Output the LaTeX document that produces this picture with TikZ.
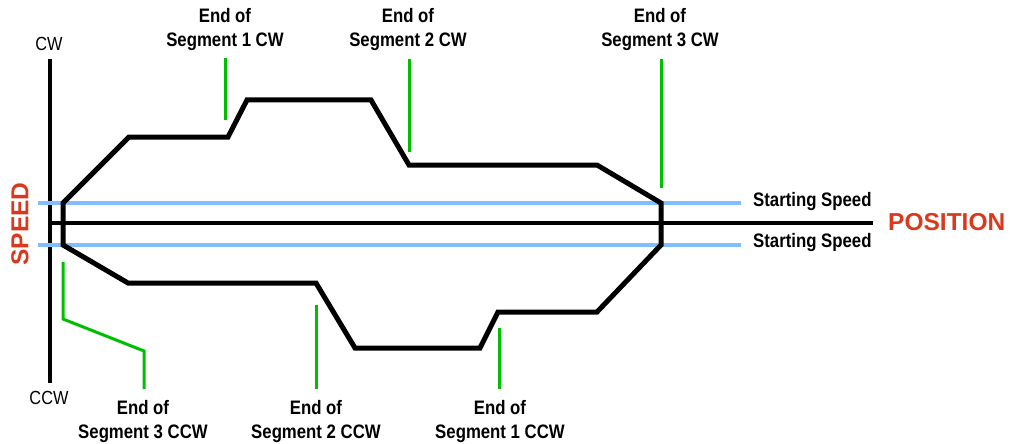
\documentclass[tikz,border=0pt]{standalone}
\usepackage{fontspec}
\setmainfont{Liberation Sans}[FakeStretch=0.86]
\newfontfamily\axisfont{Liberation Sans}
\definecolor{leadgreen}{RGB}{0,190,0}
\definecolor{startblue}{RGB}{128,190,255}
\definecolor{axisred}{RGB}{216,58,32}

\begin{document}
\begin{tikzpicture}[x=1pt, y=-1pt,
    lbl/.style={font=\fontsize{19.5}{24}\selectfont\bfseries, align=center, inner sep=0pt},
    dirlbl/.style={font=\fontsize{19}{22}\selectfont, inner sep=0pt},
    axlbl/.style={font=\axisfont\fontsize{24.5}{28}\selectfont\bfseries, text=axisred, inner sep=0pt},
    lead/.style={leadgreen, line width=3pt},
    startline/.style={startblue, line width=3.2pt},
    axis/.style={black, line width=3.2pt},
    curve/.style={black, line width=5pt, line join=miter}]
                \useasboundingbox (0,0) rectangle (1010,444);
                % axes
                \coordinate (cwtop) at (50,59);
                \coordinate (ccwbot) at (50,383);
                \coordinate (origin) at (50,223);
                \coordinate (posend) at (873,223);
                \draw[axis] (cwtop) -- (ccwbot);
                \draw[axis] (origin) -- (posend);
                \node[dirlbl] (cw) at (49,44) {CW};
                \node[dirlbl] (ccw) at (49,398) {CCW};
                \node[axlbl, rotate=90] (speed) at (20,224) {SPEED};
                \node[axlbl, anchor=west] (position) at (888,222) {POSITION};
                % starting speed
                \coordinate (ssup0) at (38,203);
                \coordinate (ssup1) at (741,203);
                \coordinate (ssdn0) at (38,245);
                \coordinate (ssdn1) at (741,245);
                \draw[startline] (ssup0) -- (ssup1);
                \draw[startline] (ssdn0) -- (ssdn1);
                \node[lbl, anchor=west] (ssupl) at (753,202) {Starting Speed};
                \node[lbl, anchor=west] (ssdnl) at (753,243) {Starting Speed};
                % profile
                \coordinate (p1) at (63,203);
                \coordinate (p2) at (129,137);
                \coordinate (p3) at (228,137);
                \coordinate (p4) at (247,100);
                \coordinate (p5) at (371,100);
                \coordinate (p6) at (409,165);
                \coordinate (p7) at (597,165);
                \coordinate (p8) at (661,203);
                \coordinate (p9) at (661,245);
                \coordinate (p10) at (597,312);
                \coordinate (p11) at (498,312);
                \coordinate (p12) at (480,348);
                \coordinate (p13) at (355,348);
                \coordinate (p14) at (316,283);
                \coordinate (p15) at (128,283);
                \coordinate (p16) at (63,245);
                \draw[curve] (p1) -- (p2) -- (p3) -- (p4) -- (p5) -- (p6) -- (p7) -- (p8)
                  -- (p9) -- (p10) -- (p11) -- (p12) -- (p13) -- (p14) -- (p15) -- (p16) -- cycle;
                % segment ends, CW
                \coordinate (cw1a) at (225,58);
                \coordinate (cw1b) at (225,120);
                \coordinate (cw2a) at (409,59);
                \coordinate (cw2b) at (409,152);
                \coordinate (cw3a) at (661,59);
                \coordinate (cw3b) at (661,188);
                \draw[lead] (cw1a) -- (cw1b);
                \draw[lead] (cw2a) -- (cw2b);
                \draw[lead] (cw3a) -- (cw3b);
                \node[lbl] (cw1) at (225,30) {End of\\Segment 1 CW};
                \node[lbl] (cw2) at (408,30) {End of\\Segment 2 CW};
                \node[lbl] (cw3) at (660,30) {End of\\Segment 3 CW};
                % segment ends, CCW
                \coordinate (ccw3a) at (63,262);
                \coordinate (ccw3b) at (63,319);
                \coordinate (ccw3c) at (144,351);
                \coordinate (ccw3d) at (144,389);
                \coordinate (ccw2a) at (316,305);
                \coordinate (ccw2b) at (316,389);
                \coordinate (ccw1a) at (499,328);
                \coordinate (ccw1b) at (499,389);
                \draw[lead] (ccw3a) -- (ccw3b) -- (ccw3c) -- (ccw3d);
                \draw[lead] (ccw2a) -- (ccw2b);
                \draw[lead] (ccw1a) -- (ccw1b);
                \node[lbl] (ccw3) at (143,421) {End of\\Segment 3 CCW};
                \node[lbl] (ccw2) at (316,421) {End of\\Segment 2 CCW};
                \node[lbl] (ccw1) at (500,421) {End of\\Segment 1 CCW};
                \end{tikzpicture}
\end{document}
